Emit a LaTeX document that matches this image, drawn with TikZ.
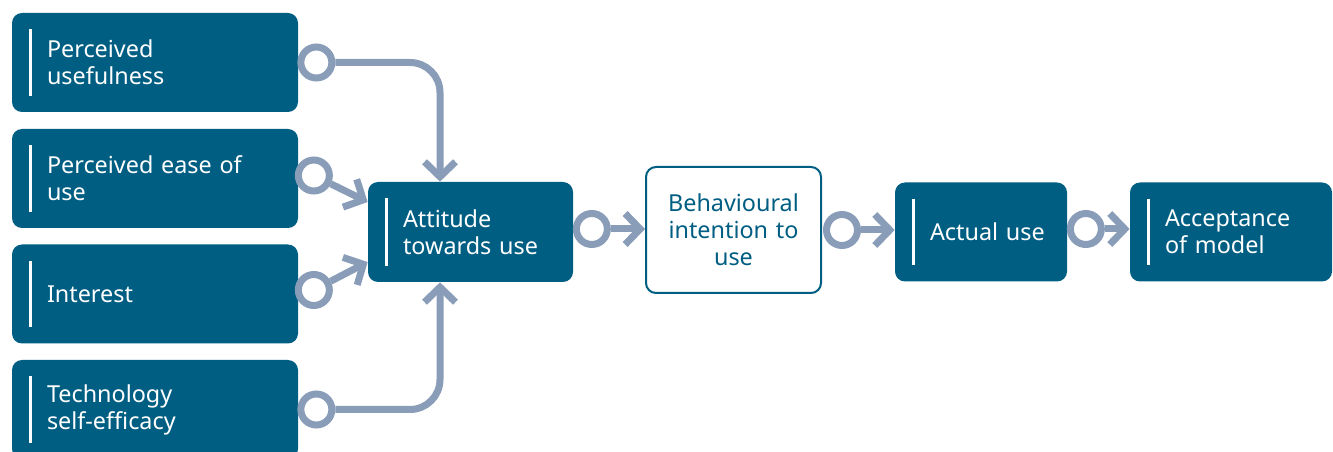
\documentclass[tikz,border=0pt]{standalone}
\usepackage{fontspec}
\setmainfont{Noto Sans}
\usepackage{xcolor}
\usepackage{tikz}
\usetikzlibrary{arrows.meta,positioning,calc}

\definecolor{boxblue}{RGB}{0,94,131}
\definecolor{linkgray}{RGB}{137,157,184}

\begin{document}
\begin{tikzpicture}[
    darkbox/.style={fill=boxblue, rounded corners=0.2cm, text=white, align=left,
        inner xsep=0.7cm, font=\fontsize{13.3pt}{15.4pt}\selectfont,
        path picture={\draw[white, line width=0.06cm]
            ([xshift=0.37cm,yshift=-0.33cm]path picture bounding box.north west) --
            ([xshift=0.37cm,yshift=0.32cm]path picture bounding box.south west);}},
    inbox/.style={darkbox, text width=4.32cm, minimum height=1.98cm},
    openbox/.style={fill=white, draw=boxblue, line width=0.04cm, rounded corners=0.2cm,
        text=boxblue, align=center, text width=3.0cm, inner xsep=0.25cm,
        minimum height=2.52cm, font=\fontsize{13.3pt}{15.4pt}\selectfont},
    knob/.style={circle, draw=linkgray, line width=0.14cm, fill=white,
        minimum size=0.62cm, inner sep=0pt},
    link/.style={draw=linkgray, line width=0.14cm,
        -{Straight Barb[length=0.3cm, width=0.62cm]}}
]

\useasboundingbox (0,0) rectangle (26.66,-9.04);

% Influencing factors
\node[inbox] (pu) at (3.10,-1.25) {Perceived\\usefulness};
\node[inbox] (pe) at (3.10,-3.57) {Perceived ease of\\use};
\node[inbox] (in) at (3.10,-5.88) {Interest};
\node[inbox] (ts) at (3.10,-8.19) {Technology\\self-efficacy};

% Main chain
\node[darkbox, text width=2.70cm, minimum height=2.0cm] (att) at (9.41,-4.64) {Attitude\\towards~use};
\node[openbox] (bi) at (14.67,-4.60) {Behavioural\\intention to\\use};
\node[darkbox, text width=2.04cm, minimum height=1.98cm] (au) at (19.62,-4.64) {Actual~use};
\node[darkbox, text width=2.64cm, minimum height=1.98cm] (acc) at (24.62,-4.64) {Acceptance\\of model};

% Knobs
\node[knob] (k1) at ([xshift=0.36cm]pu.east) {};
\node[knob] (k2) at ([xshift=0.31cm,yshift=0.06cm]pe.east) {};
\node[knob] (k3) at ([xshift=0.31cm,yshift=0.08cm]in.east) {};
\node[knob] (k4) at ([xshift=0.36cm]ts.east) {};
\node[knob] (k5) at ([xshift=0.37cm,yshift=0.06cm]att.east) {};
\node[knob] (k6) at ([xshift=0.40cm]bi.east) {};
\node[knob] (k7) at ([xshift=0.37cm,yshift=0.06cm]au.east) {};

% Ends of links
\coordinate (a1) at ([xshift=-0.61cm]att.north);
\coordinate (a2) at ([yshift=0.6cm]att.west);
\coordinate (a3) at ([yshift=-0.6cm]att.west);
\coordinate (a4) at ([xshift=-0.61cm]att.south);

% Links
\draw[link, rounded corners=0.6cm] (k1) -- (k1 -| a1) -- (a1);
\draw[link] (k2) -- (a2);
\draw[link] (k3) -- (a3);
\draw[link, rounded corners=0.6cm] (k4) -- (k4 -| a4) -- (a4);
\draw[link] (k5) -- (bi.west |- k5);
\draw[link] (k6) -- (au.west |- k6);
\draw[link] (k7) -- (acc.west |- k7);

\end{tikzpicture}
\end{document}
